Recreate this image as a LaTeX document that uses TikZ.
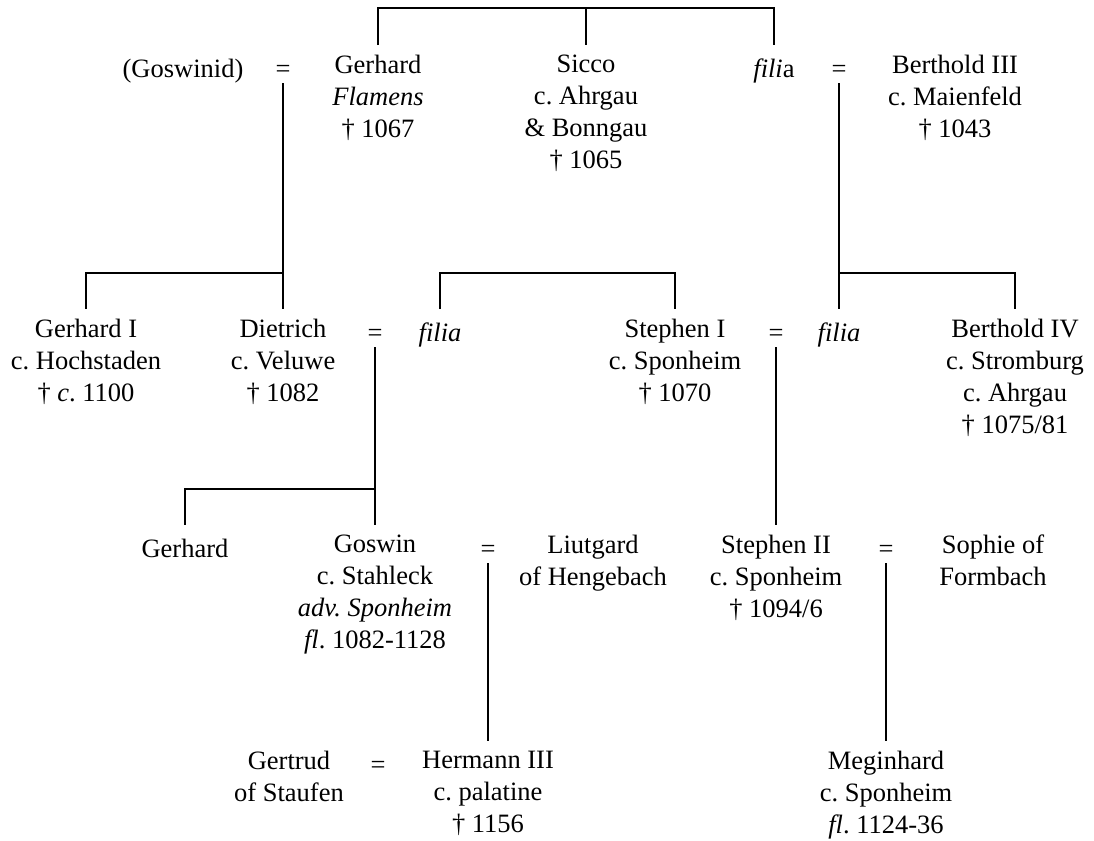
\documentclass[tikz,border=0pt]{standalone}
\usepackage{fontspec}
\setmainfont{Liberation Serif}
\usepackage{tikz}
\usetikzlibrary{positioning}
\frenchspacing

\begin{document}
\begin{tikzpicture}[
    x=0.5pt, y=-0.5pt,
    person/.style={
        anchor=north,
        yshift=11.2pt,
        align=center,
        inner sep=0pt,
        execute at begin node=\strut,
        font=\fontsize{13.25}{16}\selectfont
    },
    wed/.style={
        anchor=base,
        inner sep=0pt,
        font=\fontsize{13.25}{16}\selectfont
    },
    line/.style={line width=1pt}
]
\useasboundingbox (0,0) rectangle (1094,841);

\coordinate (topbar) at (0,8);
\coordinate (barA) at (0,273);
\coordinate (barB) at (0,489);

\node[person] (goswinid) at (183,77) {(Goswinid)};
\node[wed] (eqA) at (283,77) {=};
\node[person] (gerhard) at (378,77) {Gerhard\\\textit{Flamens}\\† 1067};
\node[person] (sicco) at (586,77) {Sicco\\c. Ahrgau\\\& Bonngau\\† 1065};
\node[person] (filia) at (774,77) {\textit{fili}a};
\node[wed] (eqR) at (839,77) {=};
\node[person] (bertholdIII) at (955,77) {Berthold III\\c. Maienfeld\\† 1043};

\node[person] (gerhardI) at (86,341) {Gerhard I\\c. Hochstaden\\† \textit{c}. 1100};
\node[person] (dietrich) at (283,341) {Dietrich\\c. Veluwe\\† 1082};
\node[wed] (eqB) at (375,341) {=};
\node[person] (filiaL) at (440,341) {\textit{filia}};
\node[person] (stephenI) at (675,341) {Stephen I\\c. Sponheim\\† 1070};
\node[wed] (eqC) at (776,341) {=};
\node[person] (filiaR) at (839,341) {\textit{filia}};
\node[person] (bertholdIV) at (1015,341) {Berthold IV\\c. Stromburg\\c. Ahrgau\\† 1075/81};

\node[person] (gerhardII) at (185,557) {Gerhard};
\node[person] (goswin) at (375,557) {Goswin\\c. Stahleck\\\textit{adv. Sponheim}\\\textit{fl}. 1082-1128};
\node[wed] (eqD) at (488,557) {=};
\node[person] (liutgard) at (593,557) {Liutgard\\of Hengebach};
\node[person] (stephenII) at (776,557) {Stephen II\\c. Sponheim\\† 1094/6};
\node[wed] (eqE) at (886,557) {=};
\node[person] (sophie) at (993,557) {Sophie of\\Formbach};

\node[person] (gertrud) at (289,773) {Gertrud\\of Staufen};
\node[wed] (eqF) at (378,773) {=};
\node[person] (hermann) at (488,773) {Hermann III\\c. palatine\\† 1156};
\node[person] (meginhard) at (886,773) {Meginhard\\c. Sponheim\\\textit{fl}. 1124-36};

\draw[line] ([yshift=4.8pt]gerhard.north) |- (filia |- topbar) -- ([yshift=4.8pt]filia.north);
\draw[line] (sicco |- topbar) -- ([yshift=4.8pt]sicco.north);

\draw[line] ([yshift=-3pt]eqA.base) -- (eqA |- barA) -| ([yshift=4.8pt]gerhardI.north);
\draw[line] (eqA |- barA) -- ([yshift=4.8pt]dietrich.north);

\draw[line] ([yshift=4.8pt]filiaL.north) |- (stephenI |- barA) -- ([yshift=4.8pt]stephenI.north);

\draw[line] ([yshift=-3pt]eqR.base) -- ([yshift=4.8pt]filiaR.north);
\draw[line] (eqR |- barA) -| ([yshift=4.8pt]bertholdIV.north);

\draw[line] ([yshift=-3pt]eqB.base) -- ([yshift=4.8pt]goswin.north);
\draw[line] (eqB |- barB) -| ([yshift=4.8pt]gerhardII.north);

\draw[line] ([yshift=-3pt]eqC.base) -- ([yshift=4.8pt]stephenII.north);

\draw[line] ([yshift=-3pt]eqD.base) -- ([yshift=4.8pt]hermann.north);
\draw[line] ([yshift=-3pt]eqE.base) -- ([yshift=4.8pt]meginhard.north);
\end{tikzpicture}
\end{document}
